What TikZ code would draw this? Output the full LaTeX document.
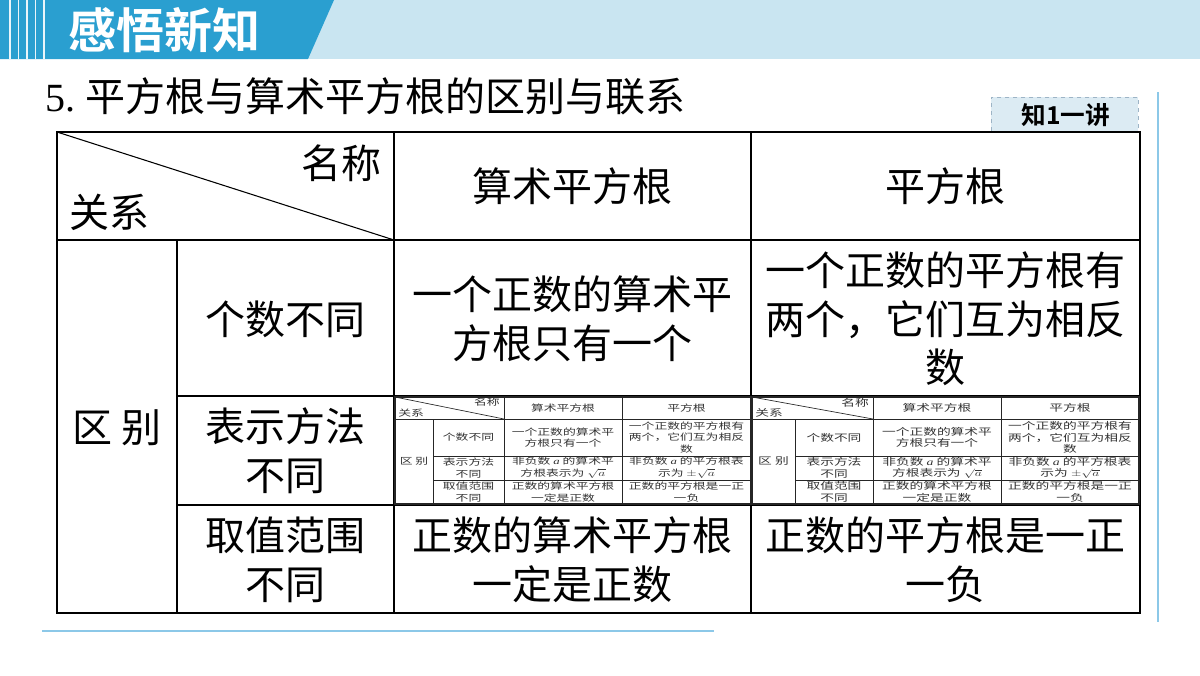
\documentclass[tikz,border=0pt]{standalone}
\usepackage{fontspec}
\setmainfont{Liberation Serif}
\newfontfamily\cjk{Noto Sans CJK SC}
\newfontfamily\cjkb{Noto Sans CJK SC}[BoldFont={Noto Sans CJK SC Bold}]
\definecolor{barblue}{HTML}{2A9FD0}
\definecolor{barlight}{HTML}{C9E5F1}
\definecolor{tabfill}{HTML}{DCEBF3}
\definecolor{tabedge}{HTML}{9DB4C6}
\definecolor{ruleblue}{HTML}{8CC8E8}
\tikzset{
  x=0.75pt,y=-0.75pt,
  cell/.style={align=center,inner sep=0pt,text=black,font=\fontsize{30}{36.5}\selectfont\cjk},
  minicell/.style={align=center,inner sep=0pt,text=black!80,transform shape,yscale=.7,font=\minifont\cjk},
  tbl/.style={draw=black,line width=1pt},
  minitbl/.style={draw=black!85,line width=0.5pt},
}
% #1 prefix, #2..#6 column edges, #7 font size
\newcommand{\minitable}[7]{%
  \def\minifont{\fontsize{#7}{12.3}\selectfont}%
  \draw[minitbl,line width=1pt] (#2,397) rectangle (#6,504);
  \draw[minitbl] (#2,419) -- (#6,419);
  \draw[minitbl] (#3,456) -- (#6,456);
  \draw[minitbl] (#3,480) -- (#6,480);
  \draw[minitbl] (#3,419) -- (#3,504);
  \draw[minitbl] (#4,397) -- (#4,504);
  \draw[minitbl] (#5,397) -- (#5,504);
  \coordinate (#1dA) at (#2,397);
  \coordinate (#1dB) at (#4,419);
  \draw[minitbl] (#1dA) -- (#1dB);
  \node[minicell,anchor=east] (#1a) at ({#4-4},402.5) {名称};
  \node[minicell,anchor=west] (#1b) at ({#2+3},413) {关系};
  \node[minicell] (#1c) at ({(#4+#5)/2},408) {算术平方根};
  \node[minicell] (#1d) at ({(#5+#6)/2},408) {平方根};
  \node[minicell] (#1e) at ({(#2+#3)/2},461) {区 别};
  \node[minicell] (#1f) at ({(#3+#4)/2},437.5) {个数不同};
  \node[minicell] (#1g) at ({(#3+#4)/2},468) {表示方法\\不同};
  \node[minicell] (#1h) at ({(#3+#4)/2},492) {取值范围\\不同};
  \node[minicell] (#1i) at ({(#4+#5)/2},437.5) {一个正数的算术平\\方根只有一个};
  \node[minicell] (#1j) at ({(#5+#6)/2},437.5) {一个正数的平方根有\\两个，它们互为相反\\数};
  \node[minicell] (#1k) at ({(#4+#5)/2},468) {非负数 {\fontspec{Liberation Serif}\itshape a} 的算术平\\方根表示为 $\sqrt{a}$};
  \node[minicell] (#1l) at ({(#5+#6)/2},468) {非负数 {\fontspec{Liberation Serif}\itshape a} 的平方根表\\示为 $\pm\sqrt{a}$};
  \node[minicell] (#1m) at ({(#4+#5)/2},492) {正数的算术平方根\\一定是正数};
  \node[minicell] (#1n) at ({(#5+#6)/2},492) {正数的平方根是一正\\一负};
}
\begin{document}
\begin{tikzpicture}
\useasboundingbox (0,0) rectangle (1200,675);
\fill[white] (0,0) rectangle (1200,675);
% header bar
\fill[barlight] (300,0) rectangle (1200,59);
\fill[barblue] (0,0) -- (334,0) -- (308,59) -- (0,59) -- cycle;
\foreach \sx in {10,18.5,27,35.5,44}{\fill[white!90!barblue] (\sx-0.9,0) rectangle (\sx+0.9,59);}
\node[inner sep=0pt,anchor=west,text=white,font=\fontsize{36}{40}\selectfont\cjkb\bfseries] (head) at (68,30) {感悟新知};
% title
\node[inner sep=0pt,anchor=west,font=\fontsize{30}{36}\selectfont] (title) at (45,96) {5.\kern7.75pt{\cjk 平方根与算术平方根的区别与联系}};
% tab
\node[draw=tabedge,dashed,line width=.6pt,fill=tabfill,minimum width=110.25pt,minimum height=27pt,inner sep=0pt,anchor=north west] (tab) at (991,97) {};
\node[inner sep=0pt,font=\fontsize{18.5}{20}\selectfont\cjkb\bfseries] (tabtext) at (1066,115) {知1一讲};
% decorative rules
\coordinate (rA) at (1158,92); \coordinate (rB) at (1158,622);
\draw[ruleblue,line width=1pt] (rA) -- (rB);
\coordinate (bA) at (42,631); \coordinate (bB) at (714,631);
\draw[ruleblue,line width=1pt] (bA) -- (bB);
% table
\fill[white] (57,132) rectangle (1140,613);
\draw[tbl] (57,132) rectangle (1140,613);
\draw[tbl] (57,240) -- (1140,240);
\draw[tbl] (177,396) -- (1140,396);
\draw[tbl] (177,505) -- (1140,505);
\draw[tbl] (177,240) -- (177,613);
\draw[tbl] (394,132) -- (394,613);
\draw[tbl] (751,132) -- (751,613);
\coordinate (dA) at (57,132); \coordinate (dB) at (394,240);
\draw[tbl,line width=.8pt] (dA) -- (dB);
\node[cell,anchor=east] (mc) at (382,163) {名称};
\node[cell,anchor=west] (gx) at (69,212) {关系};
\node[cell] (h1) at (572.5,186) {算术平方根};
\node[cell] (h2) at (945.5,186) {平方根};
\node[cell] (qb) at (117,428) {区 别};
\node[cell] (r1) at (285,319) {个数不同};
\node[cell] (r2) at (285,451) {表示方法\\不同};
\node[cell] (r3) at (285,560) {取值范围\\不同};
\node[cell] (c11) at (572.5,319) {一个正数的算术平\\方根只有一个};
\node[cell] (c12) at (945.5,319) {一个正数的平方根有\\两个，它们互为相反\\数};
\node[cell] (c31) at (572.5,560) {正数的算术平方根\\一定是正数};
\node[cell] (c32) at (945.5,560) {正数的平方根是一正\\一负};
% embedded miniature tables
\minitable{p}{395}{433}{504}{622}{751}{9.6}
\minitable{q}{752}{795}{873}{1001}{1139}{10.3}
\end{tikzpicture}
\end{document}
